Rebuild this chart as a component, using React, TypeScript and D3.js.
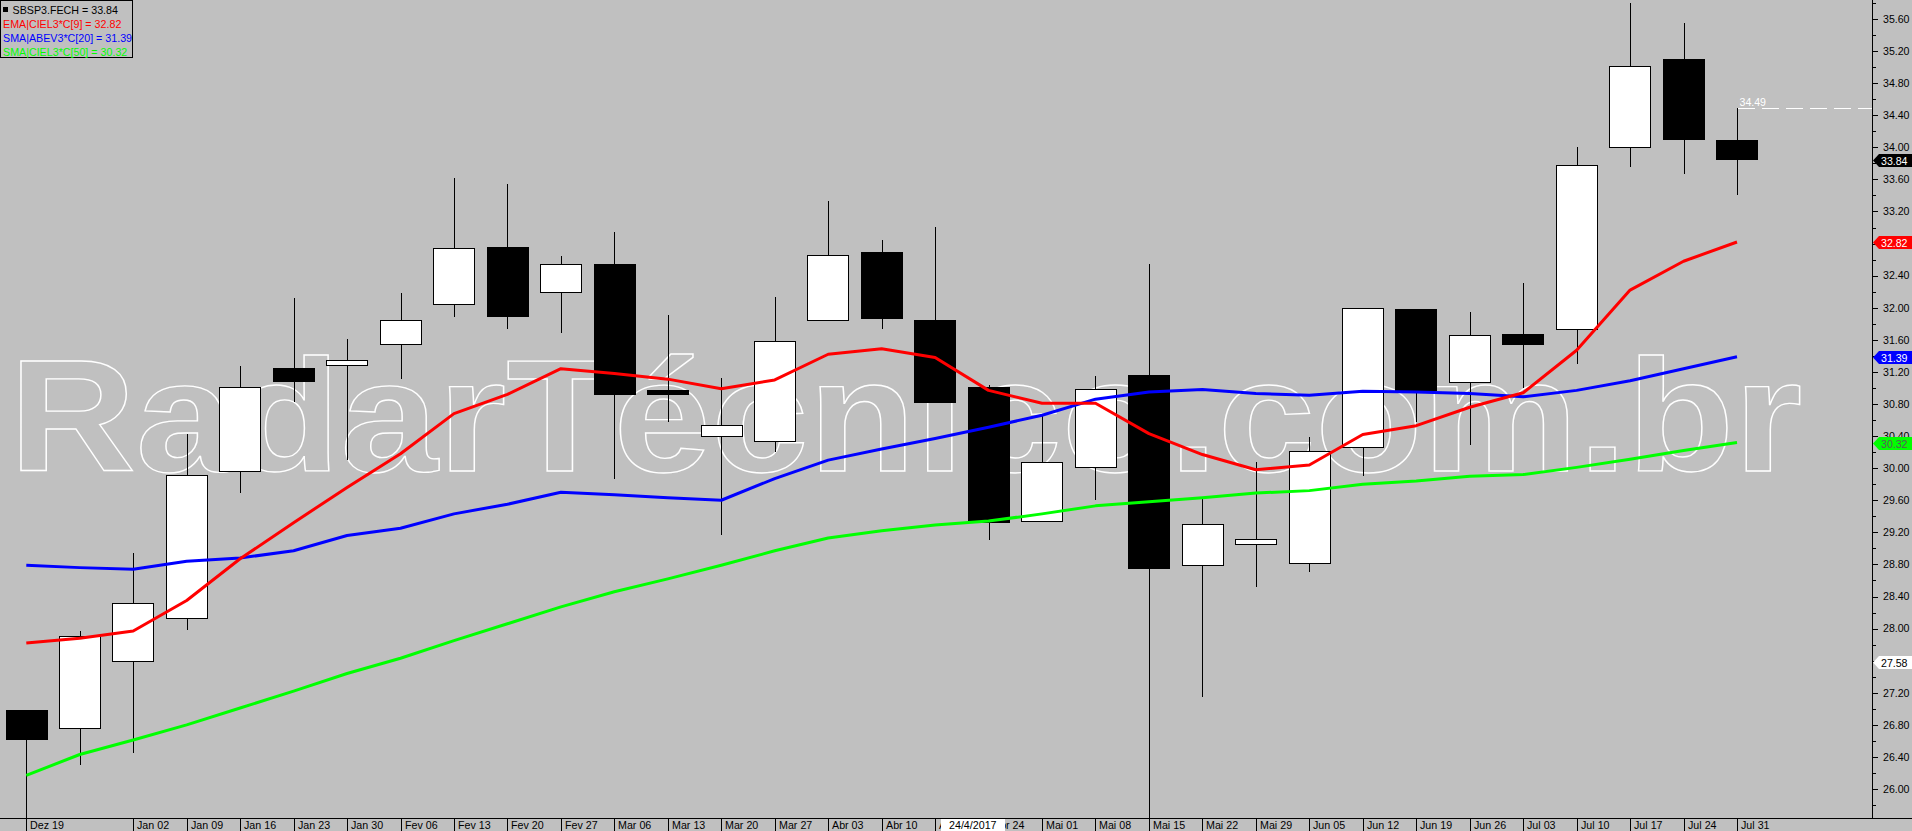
import React from "react";
import * as d3 from "d3";

const weeks = ["Dez 19","Dez 26","Jan 02","Jan 09","Jan 16","Jan 23","Jan 30","Fev 06","Fev 13","Fev 20","Fev 27","Mar 06","Mar 13","Mar 20","Mar 27","Abr 03","Abr 10","Abr 17","Abr 24","Mai 01","Mai 08","Mai 15","Mai 22","Mai 29","Jun 05","Jun 12","Jun 19","Jun 26","Jul 03","Jul 10","Jul 17","Jul 24","Jul 31"];
const openVals = [26.99,26.76,27.59,28.13,29.96,31.25,31.29,31.55,32.05,32.76,32.2,32.55,30.97,30.4,30.34,31.85,32.7,31.85,31.01,29.34,30.01,31.16,28.79,29.05,28.82,30.27,31.99,31.08,31.67,31.73,34.01,35.1,34.09];
const highVals = [26.99,27.97,28.94,30.43,31.27,32.12,31.61,32.18,33.62,33.54,32.64,32.95,31.91,31.12,32.14,33.33,32.84,33.01,31.04,30.66,31.15,32.54,29.61,30.08,30.39,32.0,31.99,31.95,32.31,34.01,35.8,35.55,34.49];
const lowVals = [25.64,26.3,26.45,27.98,29.69,30.82,30.1,31.11,31.88,31.73,31.68,29.86,30.57,29.17,30.2,31.85,31.73,30.81,29.1,29.34,29.6,25.64,27.15,28.52,28.71,29.9,30.57,30.29,31.0,31.3,33.76,33.67,33.4];
const closeVals = [26.61,27.91,28.32,29.91,31.01,31.08,31.35,31.85,32.75,31.88,32.55,30.91,30.91,30.54,31.58,32.66,31.86,30.81,29.32,30.08,30.99,28.74,29.31,29.12,30.21,32.0,30.96,31.66,31.53,33.78,35.02,34.09,33.84];
const ema9 = [27.82,27.88,27.97,28.35,28.87,29.32,29.76,30.18,30.68,30.92,31.24,31.18,31.11,30.99,31.1,31.42,31.49,31.38,30.97,30.81,30.81,30.43,30.17,29.98,30.04,30.42,30.53,30.76,30.94,31.47,32.22,32.58,32.82];
const sma20 = [28.79,28.76,28.74,28.84,28.88,28.97,29.16,29.25,29.43,29.55,29.7,29.67,29.63,29.6,29.87,30.1,30.24,30.37,30.51,30.66,30.86,30.95,30.98,30.93,30.91,30.96,30.95,30.93,30.89,30.97,31.09,31.24,31.39];
const sma50 = [26.17,26.43,26.61,26.8,27.01,27.22,27.44,27.63,27.85,28.06,28.27,28.46,28.62,28.79,28.97,29.13,29.22,29.29,29.34,29.43,29.53,29.58,29.63,29.69,29.72,29.8,29.84,29.9,29.92,30.01,30.11,30.22,30.32];
const yTickValues = [26.0,26.4,26.8,27.2,27.6,28.0,28.4,28.8,29.2,29.6,30.0,30.4,30.8,31.2,31.6,32.0,32.4,32.8,33.2,33.6,34.0,34.4,34.8,35.2,35.6];
const hiddenWeekLabels = ["Dez 26"];
const legendLabels = ["SBSP3.FECH = 33.84","EMA|CIEL3*C[9] = 32.82","SMA|ABEV3*C[20] = 31.39","SMA|CIEL3*C[50] = 30.32"];
const lastHighLabel = 34.49;
const cursorPrice = 27.58;
const cursorDate = "24/4/2017";
const watermark = "RadarTécnico.com.br";

const FONT = "'Liberation Sans', Arial, sans-serif";
const BG = "#c0c0c0";
const RED = "#ff0000";
const BLUE = "#0000ff";
const GREEN = "#00ff00";

export default function App() {
  const W = 1912, H = 831, axisX = 1872, plotBottom = 818;
  const x = d3.scalePoint<string>().domain(weeks).range([26.3, 1737]);
  const y = d3.scaleLinear().domain([26, 35.6]).range([789, 19]);
  const bodyW = 41.5;
  const px = (i: number) => Math.round(x(weeks[i]) as number) + 0.5;

  const lineGen = (vals: number[]) =>
    d3.line<number>().x((_, i) => x(weeks[i]) as number).y(v => y(v))(vals) || "";

  const minorTicks = yTickValues.map(v => v - 0.2).concat([yTickValues[yTickValues.length - 1] + 0.2]);

  const markers = [
    { v: closeVals[closeVals.length - 1], fill: "#000", text: "#fff" },
    { v: ema9[ema9.length - 1], fill: RED, text: "#fff" },
    { v: sma20[sma20.length - 1], fill: BLUE, text: "#fff" },
    { v: sma50[sma50.length - 1], fill: GREEN, text: "#5a5a5a" },
    { v: cursorPrice, fill: "#fff", text: "#000" },
  ];

  const sx = 1.103;
  const wmFont = 159;
  const wmX = 22 - 0.073 * wmFont * sx;
  const wmY = 470.7;

  const lastI = weeks.length - 1;
  const yHigh = Math.round(y(lastHighLabel)) + 0.5;

  return (
    <svg width={W} height={H} style={{ position: "absolute", left: 0, top: 0, display: "block" }} fontFamily={FONT}>
      <rect x={0} y={0} width={W} height={H} fill={BG} />
      {/* watermark */}
      <text transform={`translate(${wmX},${wmY}) scale(${sx},1)`} fontSize={wmFont} fontWeight="bold"
        fill="none" stroke="#ffffff" strokeWidth={1.4} style={{ vectorEffect: "non-scaling-stroke" } as any}>
        {watermark}
      </text>
      {/* candles */}
      <g shapeRendering="crispEdges">
        {weeks.map((w, i) => (
          <line key={"w" + i} x1={px(i)} x2={px(i)} y1={y(highVals[i])} y2={y(lowVals[i])} stroke="#000" strokeWidth={1} />
        ))}
        {weeks.map((w, i) => {
          const o = openVals[i], c = closeVals[i];
          const up = c >= o;
          const top = Math.round(y(Math.max(o, c)));
          const bot = Math.round(y(Math.min(o, c)));
          const left = Math.round((x(w) as number) - bodyW / 2);
          const h = Math.max(3, bot - top);
          return up ? (
            <rect key={"b" + i} x={left + 0.5} y={top + 0.5} width={Math.round(bodyW) - 1} height={h} fill="#fff" stroke="#000" strokeWidth={1} />
          ) : (
            <rect key={"b" + i} x={left} y={top} width={Math.round(bodyW)} height={Math.max(2, bot - top)} fill="#000" />
          );
        })}
      </g>
      {/* indicator lines */}
      <path d={lineGen(sma50)} fill="none" stroke={GREEN} strokeWidth={3} strokeLinejoin="round" />
      <path d={lineGen(sma20)} fill="none" stroke={BLUE} strokeWidth={3} strokeLinejoin="round" />
      <path d={lineGen(ema9)} fill="none" stroke={RED} strokeWidth={3} strokeLinejoin="round" />
      {/* last high dashed line */}
      <line x1={px(lastI)} x2={axisX} y1={yHigh} y2={yHigh} stroke="#fff" strokeWidth={1} strokeDasharray="17 7" shapeRendering="crispEdges" />
      <text x={px(lastI) + 2} y={yHigh - 2.5} fontSize={10.6} fill="#fff">{lastHighLabel.toFixed(2)}</text>
      {/* legend */}
      <rect x={0.5} y={0.5} width={132} height={57} fill={BG} stroke="#000" strokeWidth={1} shapeRendering="crispEdges" />
      <rect x={3} y={7} width={5} height={5} fill="#000" />
      {legendLabels.map((t, i) => (
        <text key={t} x={i === 0 ? 12.5 : 3} y={13.5 + i * 14.1} fontSize={10.7}
          fill={["#000", RED, BLUE, GREEN][i]}>{t}</text>
      ))}
      {/* axes */}
      <g shapeRendering="crispEdges">
        <line x1={axisX + 0.5} x2={axisX + 0.5} y1={0} y2={plotBottom} stroke="#000" />
        <line x1={0} x2={W} y1={plotBottom + 0.5} y2={plotBottom + 0.5} stroke="#000" />
        {yTickValues.map(v => (
          <line key={"t" + v} x1={axisX} x2={axisX + 6} y1={Math.round(y(v)) + 0.5} y2={Math.round(y(v)) + 0.5} stroke="#000" />
        ))}
        {minorTicks.map(v => (
          <line key={"m" + v} x1={axisX} x2={axisX + 4} y1={Math.round(y(v)) + 0.5} y2={Math.round(y(v)) + 0.5} stroke="#000" />
        ))}
        {weeks.map((w, i) => hiddenWeekLabels.includes(w) ? null : (
          <line key={"xs" + i} x1={px(i)} x2={px(i)} y1={plotBottom} y2={H} stroke="#000" />
        ))}
      </g>
      {yTickValues.map(v => (
        <text key={"l" + v} x={axisX + 11} y={y(v) + 3.8} fontSize={10.6} fill="#000">{v.toFixed(2)}</text>
      ))}
      {weeks.map((w, i) => hiddenWeekLabels.includes(w) ? null : (
        <text key={"xl" + i} x={px(i) + 3.5} y={829} fontSize={10.7} fill="#000">{w}</text>
      ))}
      {/* cursor date box */}
      <rect x={941} y={819} width={64} height={12} fill="#fff" />
      <text x={949} y={829} fontSize={10.7} fill="#000">{cursorDate}</text>
      {/* price markers */}
      {markers.map((m, i) => {
        const yy = Math.round(y(m.v)) + 0.5;
        const hh = 6.5;
        const pts = [[axisX + 1, yy], [axisX + 7, yy - hh], [W, yy - hh], [W, yy + hh], [axisX + 7, yy + hh]];
        return (
          <g key={"mk" + i}>
            <polygon points={pts.map(p => p.join(",")).join(" ")} fill={m.fill} />
            <text x={axisX + 9} y={yy + 4} fontSize={10.6} fill={m.text}>{m.v.toFixed(2)}</text>
          </g>
        );
      })}
    </svg>
  );
}
